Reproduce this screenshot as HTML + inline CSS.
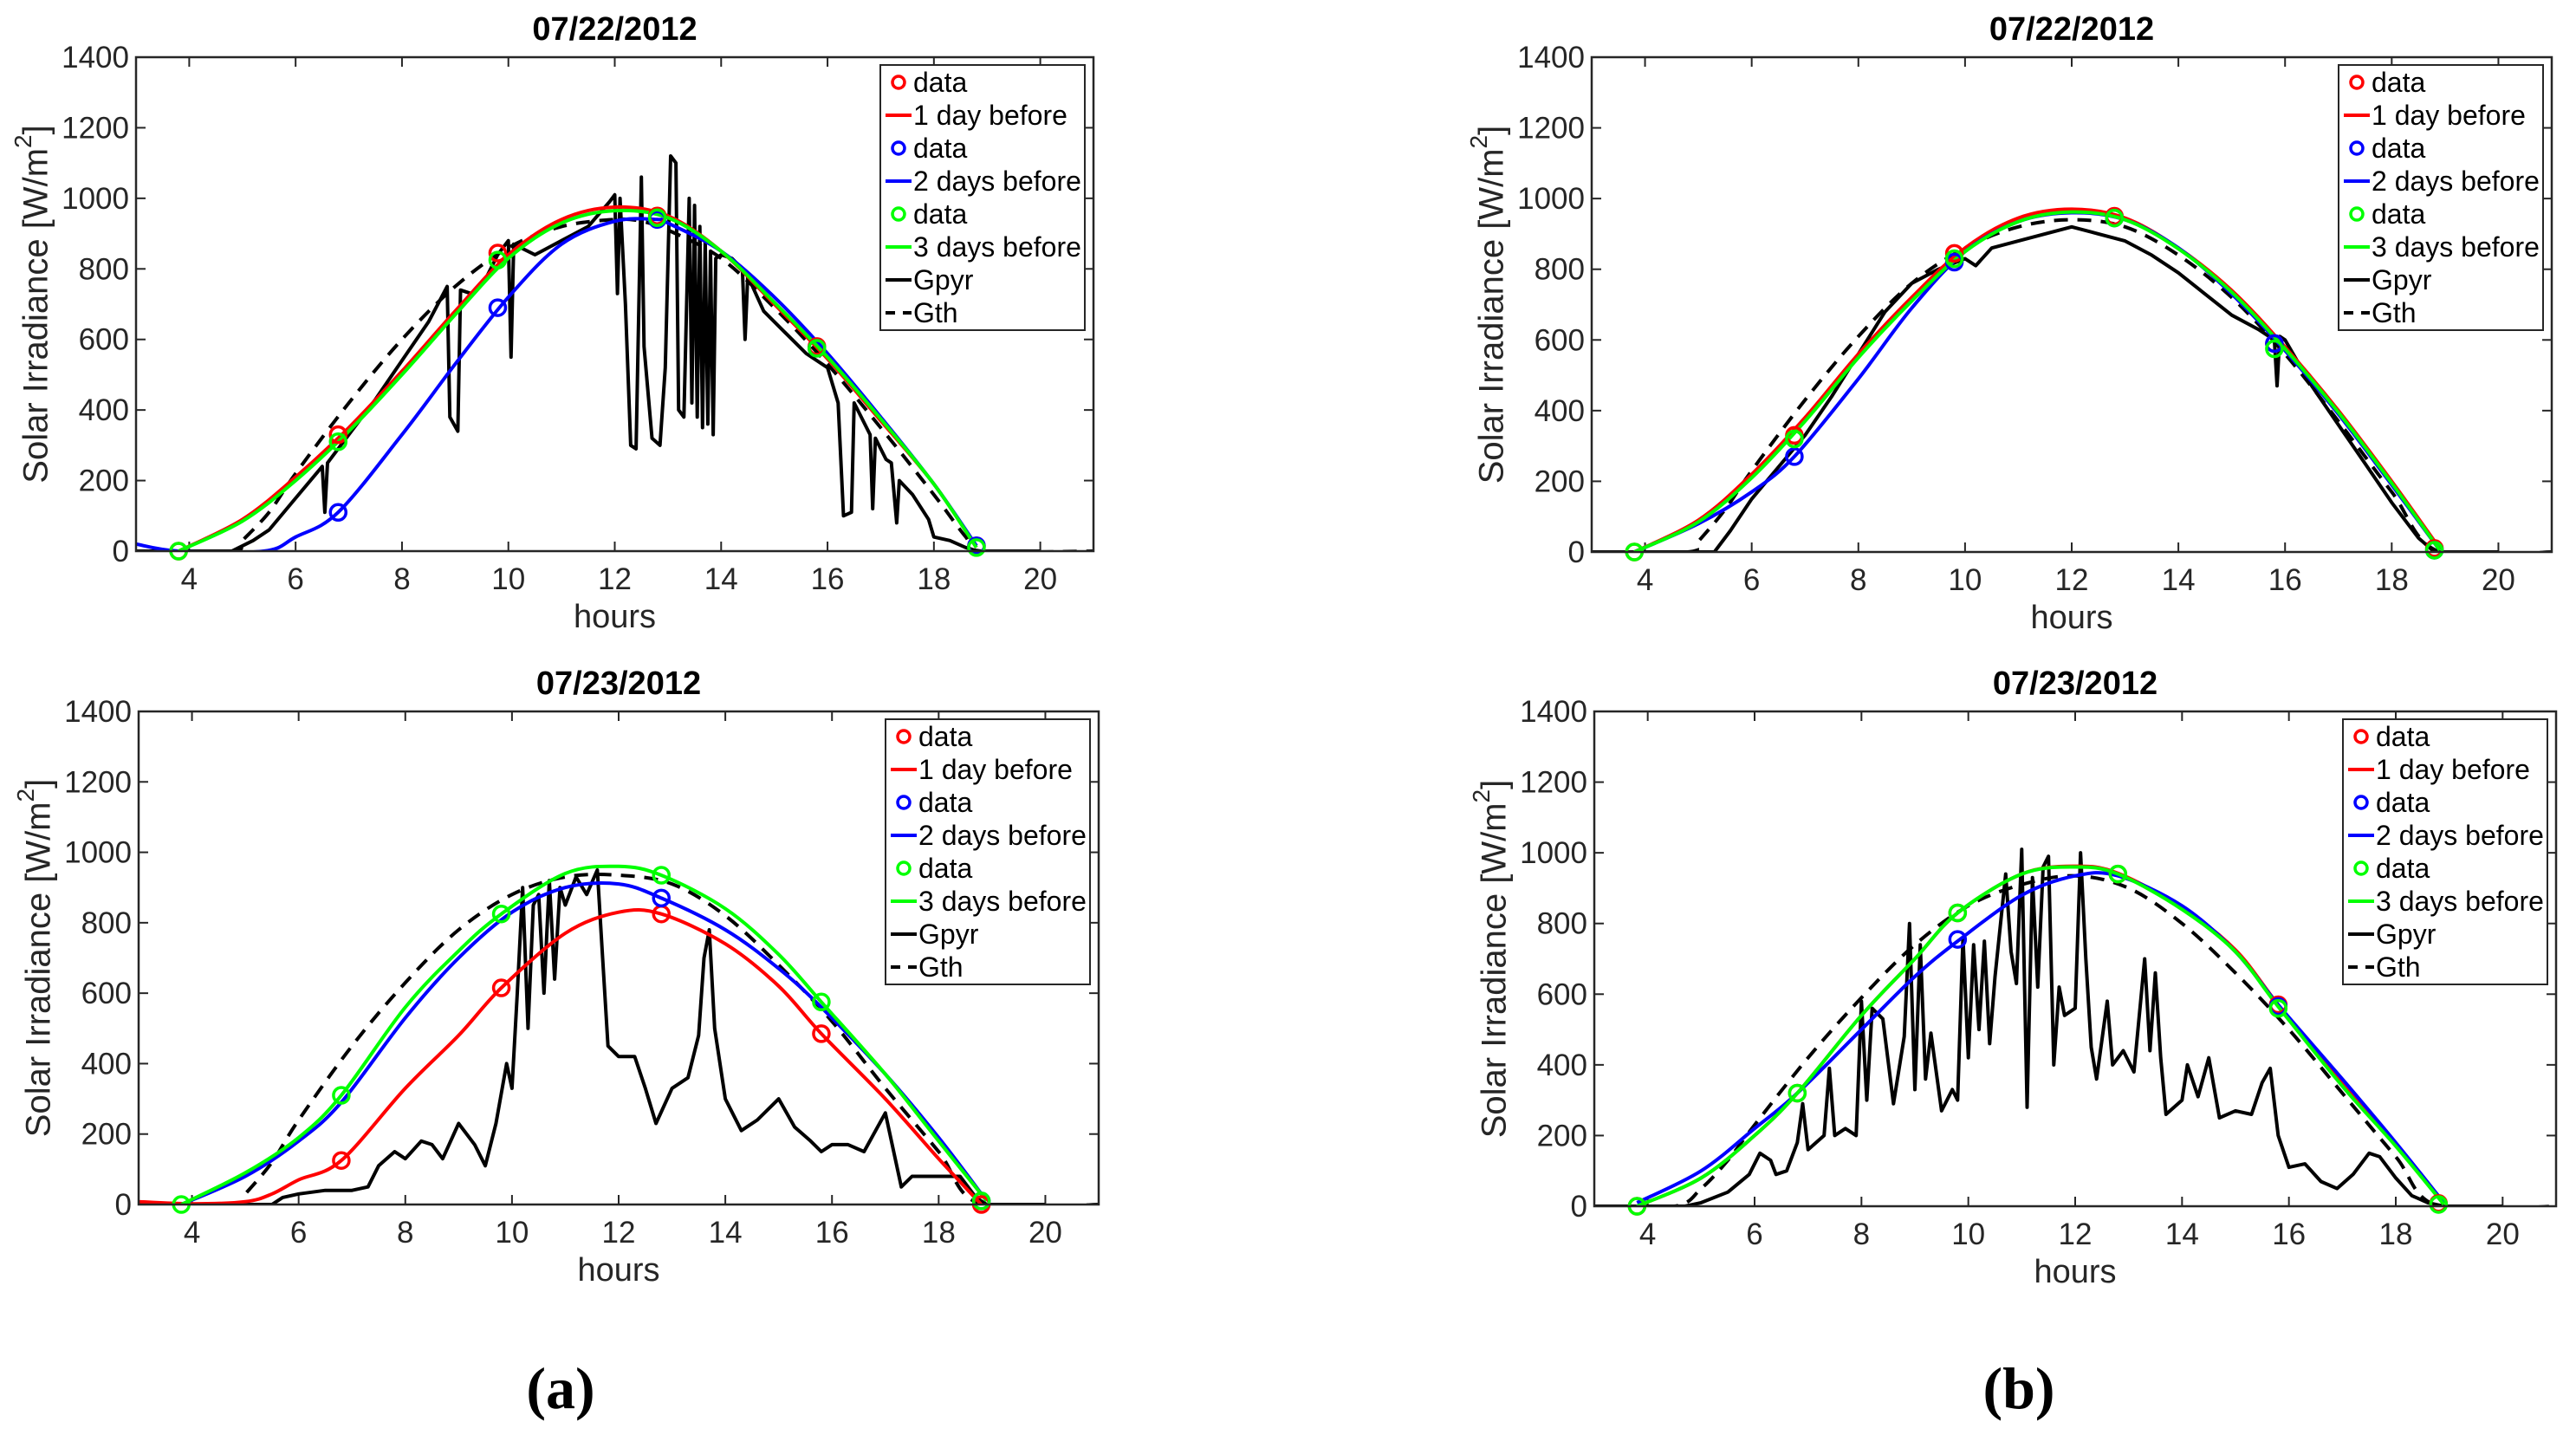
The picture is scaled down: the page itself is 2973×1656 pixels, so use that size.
<!DOCTYPE html>
<html><head><meta charset="utf-8"><style>
html,body{margin:0;padding:0;background:#fff;}
svg{display:block;}
text{font-family:"Liberation Sans",Arial,sans-serif;}
</style></head>
<body>
<svg id="fig" width="2973" height="1656" viewBox="0 0 2973 1656" xmlns="http://www.w3.org/2000/svg">
<text x="647" y="1625" font-size="68" font-weight="bold" text-anchor="middle" style="font-family:'Liberation Serif',serif">(a)</text>
<text x="2330" y="1625" font-size="68" font-weight="bold" text-anchor="middle" style="font-family:'Liberation Serif',serif">(b)</text>
</svg>
<script>
// ---------- data ----------
const xTicks = [4,6,8,10,12,14,16,18,20];
const yTicks = [0,200,400,600,800,1000,1200,1400];
const markerHours = [3.8,6.8,9.8,12.8,15.8,18.8];
const legendLabels = ["data","1 day before","data","2 days before","data","3 days before","Gpyr","Gth"];

// Panel a-top 07/22
const aTopRedH = [3.8,5,6,7,8,9,10,11,12,13,14,15,16,17,18,18.8];
const aTopRedV = [0,90,210,350,510,680,840,940,975,950,850,700,545,370,190,10];
const aTopRedMarks = [0,330,845,950,580,15];
const aTopGreenH = [3.8,5,6,7,8,9,10,11,12,13,14,15,16,17,18,18.8];
const aTopGreenV = [0,85,200,340,500,670,830,930,965,945,850,705,550,375,190,10];
const aTopGreenMarks = [0,310,825,945,575,10];
const aTopBlueH = [3,3.8,5.4,6,6.8,8,9,10,11,12,12.8,13,14,15,16,17,18,18.8];
const aTopBlueV = [20,0,0,40,110,330,530,720,870,935,940,930,850,720,560,380,190,15];
const aTopBlueMarks = [null,110,690,940,575,15];
const aTopGthH = [3,4.8,5,5.5,6,7,8,9,10,11,12,12.5,13,14,15,16,17,18,18.6,18.9,21];
const aTopGthV = [0,0,30,110,220,420,600,750,860,920,940,935,910,830,690,530,350,160,40,0,0];
const aTopGpyrH = [3,4.8,5.2,5.5,6,6.5,6.55,6.6,7,7.5,8,8.5,8.85,8.9,9.05,9.1,9.3,9.6,9.8,10,10.05,10.1,10.5,11,11.5,11.9,12,12.05,12.1,12.2,12.3,12.4,12.5,12.55,12.7,12.85,12.95,13.05,13.15,13.2,13.3,13.4,13.45,13.5,13.55,13.6,13.65,13.7,13.75,13.8,13.85,13.9,14,14.2,14.4,14.45,14.5,14.8,15.2,15.6,16,16.2,16.3,16.45,16.5,16.8,16.85,16.9,17.1,17.2,17.3,17.35,17.6,17.9,18,18.3,18.6,18.8,20];
const aTopGpyrV = [0,0,30,60,150,240,110,250,330,430,540,650,750,380,340,740,730,780,840,880,550,870,840,880,920,990,1010,730,1000,700,300,290,1060,580,320,300,520,1120,1100,400,380,1000,420,980,380,920,350,880,360,850,330,830,840,830,800,600,780,680,620,560,520,420,100,110,420,330,120,320,260,250,80,200,160,90,40,30,10,0,0];

// Panel b-top 07/22
const bTopRedH = [3.8,5,6,7,8,9,10,11,12,13,14,15,16,17,18,18.9];
const bTopRedV = [0,90,220,380,560,720,860,945,970,945,860,740,580,400,200,10];
const bTopRedMarks = [0,330,845,950,590,10];
const bTopGreenH = [3.8,5,6,7,8,9,10,11,12,13,14,15,16,17,18,18.9];
const bTopGreenV = [0,85,210,370,550,710,850,935,962,940,858,735,575,395,195,5];
const bTopGreenMarks = [0,320,830,945,575,5];
const bTopBlueH = [3.8,5,6,6.8,8,9,10,11,12,13,14,15,16,17,18,18.9];
const bTopBlueV = [0,80,170,270,490,690,850,935,960,940,860,730,570,390,190,5];
const bTopBlueMarks = [null,270,820,945,590,5];
const bTopGthH = [3,4.8,5,5.5,6,7,8,9,10,11,12,13,14,15,16,17,18,18.9,21];
const bTopGthV = [0,0,30,120,230,430,610,760,860,920,940,920,840,720,560,370,170,0,0];
const bTopGpyrH = [3,5.3,5.6,6,6.5,7,7.5,8,8.5,9,9.5,10,10.2,10.5,11,11.5,12,12.5,13,13.5,14,14.5,15,15.5,15.8,15.85,15.9,16,16.5,17,17.5,18,18.5,18.8,20];
const bTopGpyrV = [0,0,60,150,240,330,440,560,680,760,800,830,810,860,880,900,920,900,880,840,790,730,670,630,600,470,610,600,470,360,250,140,40,0,0];

// Panel a-bottom 07/23
const aBotRedH = [3,4,5,5.5,6,6.8,8,9,9.8,11,12,12.8,14,15,15.8,17,18,18.8];
const aBotRedV = [8,2,8,30,70,125,330,480,615,770,830,825,740,620,485,300,130,0];
const aBotRedMarks = [null,125,615,825,485,0];
const aBotGreenH = [3.8,5,6,6.8,8,9,9.8,11,12,12.8,14,15,15.8,17,18,18.9];
const aBotGreenV = [0,90,190,310,560,720,825,940,960,935,840,710,575,370,180,10];
const aBotGreenMarks = [0,310,825,935,575,10];
const aBotBlueH = [3.8,5,6,6.8,8,9,10,11,12,12.8,14,15,15.8,17,18,18.9];
const aBotBlueV = [0,80,180,290,530,700,830,900,910,870,780,670,560,370,190,10];
const aBotBlueMarks = [null,null,null,870,null,10];
const aBotGthH = [3,4.8,5,5.5,6,7,8,9,10,11,12,13,14,15,16,17,18,18.8,21];
const aBotGthV = [0,0,30,120,240,450,630,780,880,930,935,910,820,680,520,330,150,0,0];
const aBotGpyrH = [3,5.5,5.7,6,6.5,7,7.3,7.5,7.8,8,8.3,8.5,8.7,9,9.3,9.5,9.7,9.9,10,10.1,10.2,10.3,10.4,10.5,10.6,10.7,10.8,10.9,11,11.2,11.4,11.6,11.7,11.8,12,12.3,12.5,12.7,13,13.3,13.5,13.6,13.7,13.8,14,14.3,14.6,15,15.3,15.6,15.8,16,16.3,16.6,17,17.3,17.5,18,18.4,18.7,18.9,20];
const aBotGpyrV = [0,0,20,30,40,40,50,110,150,130,180,170,130,230,170,110,230,400,330,600,900,500,850,880,600,920,640,900,850,930,880,950,700,450,420,420,330,230,330,360,480,700,780,500,300,210,240,300,220,180,150,170,170,150,260,50,80,80,80,20,0,0];

// Panel b-bottom 07/23
const bBotRedH = [3.8,5,6,6.8,8,9,9.8,11,12,12.8,14,15,15.8,17,18,18.9];
const bBotRedV = [0,80,200,320,540,700,830,940,962,942,845,725,570,345,172,8];
const bBotRedMarks = [0,320,830,940,570,8];
const bBotGreenH = [3.8,5,6,6.8,8,9,9.8,11,12,12.8,14,15,15.8,17,18,18.9];
const bBotGreenV = [0,80,200,320,540,700,830,940,960,940,840,720,565,340,170,5];
const bBotGreenMarks = [0,320,830,940,560,5];
const bBotBlueH = [3.8,5,6,6.8,8,9,9.8,11,12,12.8,14,15,15.8,17,18,18.9];
const bBotBlueV = [10,100,220,320,500,650,750,880,935,935,850,720,570,360,180,10];
const bBotBlueMarks = [null,null,755,null,565,null];
const bBotGthH = [3,4.5,5,5.5,6,7,8,9,10,11,12,13,14,15,16,17,18,18.8,21];
const bBotGthV = [0,0,50,130,230,420,590,740,850,910,935,900,800,660,500,320,140,0,0];
const bBotGpyrH = [3,4.7,5,5.5,5.9,6.1,6.3,6.4,6.6,6.8,6.9,7,7.3,7.4,7.5,7.7,7.9,8,8.1,8.2,8.4,8.6,8.8,8.9,9,9.1,9.2,9.3,9.5,9.7,9.8,9.9,10,10.1,10.2,10.3,10.4,10.5,10.7,10.8,10.9,11,11.1,11.2,11.3,11.4,11.5,11.6,11.7,11.8,12,12.1,12.2,12.3,12.4,12.6,12.7,12.9,13.1,13.3,13.4,13.5,13.6,13.7,14,14.1,14.3,14.5,14.7,15,15.3,15.5,15.65,15.8,16,16.3,16.6,16.9,17.2,17.5,17.7,18,18.3,18.6,18.9,20];
const bBotGpyrV = [0,0,10,40,90,150,130,90,100,180,290,160,200,390,200,220,200,580,300,560,530,290,480,800,330,740,360,490,270,330,300,760,420,740,500,750,460,650,940,720,630,1010,280,930,620,960,990,400,620,540,560,1000,700,450,360,580,400,440,380,700,440,660,420,260,300,400,310,420,250,270,260,350,390,200,110,120,70,50,90,150,140,80,30,10,0,0];

// ---------- layout ----------
const panels = [
  {id:"a-top", title:"07/22/2012", L:157,T:66,R:1262,B:636, ylabX:44, red:[aTopRedH,aTopRedV,aTopRedMarks], blue:[aTopBlueH,aTopBlueV,aTopBlueMarks], green:[aTopGreenH,aTopGreenV,aTopGreenMarks], gth:[aTopGthH,aTopGthV], gpyr:[aTopGpyrH,aTopGpyrV]},
  {id:"b-top", title:"07/22/2012", L:1837,T:66,R:2945,B:637, ylabX:1724, red:[bTopRedH,bTopRedV,bTopRedMarks], blue:[bTopBlueH,bTopBlueV,bTopBlueMarks], green:[bTopGreenH,bTopGreenV,bTopGreenMarks], gth:[bTopGthH,bTopGthV], gpyr:[bTopGpyrH,bTopGpyrV]},
  {id:"a-bottom", title:"07/23/2012", L:160,T:821,R:1268,B:1390, ylabX:47, red:[aBotRedH,aBotRedV,aBotRedMarks], blue:[aBotBlueH,aBotBlueV,aBotBlueMarks], green:[aBotGreenH,aBotGreenV,aBotGreenMarks], gth:[aBotGthH,aBotGthV], gpyr:[aBotGpyrH,aBotGpyrV]},
  {id:"b-bottom", title:"07/23/2012", L:1840,T:821,R:2950,B:1392, ylabX:1727, red:[bBotRedH,bBotRedV,bBotRedMarks], blue:[bBotBlueH,bBotBlueV,bBotBlueMarks], green:[bBotGreenH,bBotGreenV,bBotGreenMarks], gth:[bBotGthH,bBotGthV], gpyr:[bBotGpyrH,bBotGpyrV]}
];
const NS="http://www.w3.org/2000/svg";
const fig=document.getElementById('fig');
function mk(tag,attrs,parent){const e=document.createElementNS(NS,tag);for(const k in attrs)e.setAttribute(k,attrs[k]);(parent||fig).appendChild(e);return e;}
function smoothPath(pts){
  let d="M"+pts[0][0].toFixed(1)+","+pts[0][1].toFixed(1);
  for(let i=0;i<pts.length-1;i++){
    const p0=pts[Math.max(0,i-1)],p1=pts[i],p2=pts[i+1],p3=pts[Math.min(pts.length-1,i+2)];
    const c1=[p1[0]+(p2[0]-p0[0])/6,p1[1]+(p2[1]-p0[1])/6];
    const c2=[p2[0]-(p3[0]-p1[0])/6,p2[1]-(p3[1]-p1[1])/6];
    d+=" C"+c1[0].toFixed(1)+","+c1[1].toFixed(1)+" "+c2[0].toFixed(1)+","+c2[1].toFixed(1)+" "+p2[0].toFixed(1)+","+p2[1].toFixed(1);
  }
  return d;
}
const AX="#262626";
panels.forEach(p=>{
  const xs=h=>p.L+(h-3)/18*(p.R-p.L);
  const ys=v=>p.B-v/1400*(p.B-p.T);
  const g=mk('g',{});
  
  
  const cx=(p.L+p.R)/2;
  const t=mk('text',{x:cx,y:p.T-20,'font-size':38,'font-weight':'bold','text-anchor':'middle',fill:'#000'},g);
  t.textContent=p.title;
  
  
  yTicks.forEach(v=>{
    const y=ys(v);
    const l=mk('line',{x1:p.L,x2:p.L+11,y1:y,y2:y,stroke:AX,'stroke-width':2},g);
    
    
    mk('line',{x1:p.R-11,x2:p.R,y1:y,y2:y,stroke:AX,'stroke-width':2},g);
    const tl=mk('text',{x:p.L-8,y:y+12,'font-size':35,'text-anchor':'end',fill:AX},g);
    tl.textContent=v;
    
    
  });
  xTicks.forEach(h=>{
    const x=xs(h);
    const l=mk('line',{x1:x,x2:x,y1:p.B,y2:p.B-11,stroke:AX,'stroke-width':2},g);
    
    
    mk('line',{x1:x,x2:x,y1:p.T,y2:p.T+11,stroke:AX,'stroke-width':2},g);
    const tl=mk('text',{x:x,y:p.B+44,'font-size':35,'text-anchor':'middle',fill:AX},g);
    tl.textContent=h;
    
    
  });
  const xt=mk('text',{x:cx,y:p.B+88,'font-size':38,'text-anchor':'middle',fill:AX},g);
  xt.textContent="hours";
  
  
  const yc=(p.T+p.B)/2;
  const yt=mk('text',{x:p.ylabX,y:yc,'font-size':40,'text-anchor':'middle',fill:AX,transform:`rotate(-90 ${p.ylabX} ${yc})`,'dominant-baseline':'middle'},g);
  yt.innerHTML='Solar Irradiance [W/m<tspan baseline-shift="super" font-size="28">2</tspan>]';
  
  
  const cid='clip-'+p.id;
  const cp=mk('clipPath',{id:cid},g);mk('rect',{x:p.L,y:p.T,width:p.R-p.L,height:p.B-p.T},cp);
  const pg=mk('g',{'clip-path':`url(#${cid})`},g);
  const gth=mk('path',{d:smoothPath(p.gth[0].map((h,i)=>[xs(h),ys(p.gth[1][i])])),fill:'none',stroke:'#000','stroke-width':4,'stroke-dasharray':'16 11'},pg);
  
  
  const gp=mk('polyline',{points:p.gpyr[0].map((h,i)=>xs(h).toFixed(1)+","+ys(p.gpyr[1][i]).toFixed(1)).join(' '),fill:'none',stroke:'#000','stroke-width':4,'stroke-linejoin':'round'},pg);
  
  
  [['red','#ff0000','1-day-before'],['blue','#0000ff','2-days-before'],['green','#00ff00','3-days-before']].forEach(([k,c,n])=>{
    const s=p[k];
    const ln=mk('path',{d:smoothPath(s[0].map((h,i)=>[xs(h),ys(s[1][i])])),fill:'none',stroke:c,'stroke-width':4},pg);
    
    
    s[2].forEach((v,i)=>{
      if(v===null)return;
      const m=mk('circle',{cx:xs(markerHours[i]),cy:ys(v),r:9,fill:'none',stroke:c,'stroke-width':3.5},g);
      
      
    });
  });
  const fr=mk('rect',{x:p.L,y:p.T,width:p.R-p.L,height:p.B-p.T,fill:'none',stroke:AX,'stroke-width':2.5},g);
  
  
  const lw=236,lh=306,lx=p.R-10-lw,ly=p.T+9;
  const lg=mk('g',{},g);
  
  
  mk('rect',{x:lx,y:ly,width:lw,height:lh,fill:'#fff',stroke:AX,'stroke-width':2},lg);
  const cols=['#ff0000','#ff0000','#0000ff','#0000ff','#00ff00','#00ff00','#000','#000'];
  legendLabels.forEach((lab,i)=>{
    const ry=ly+20+i*38;
    const e=mk('g',{},lg);
    
    
    if(i%2===0&&i<6){mk('circle',{cx:lx+21,cy:ry,r:7,fill:'none',stroke:cols[i],'stroke-width':3.5},e);}
    else if(i===7){mk('line',{x1:lx+6,x2:lx+36,y1:ry,y2:ry,stroke:'#000','stroke-width':4,'stroke-dasharray':'11 9'},e);}
    else{mk('line',{x1:lx+6,x2:lx+36,y1:ry,y2:ry,stroke:cols[i],'stroke-width':4},e);}
    const tx=mk('text',{x:lx+38,y:ry+11,'font-size':32,fill:'#000'},e);
    tx.textContent=lab;
  });
});
</script>
</body></html>
